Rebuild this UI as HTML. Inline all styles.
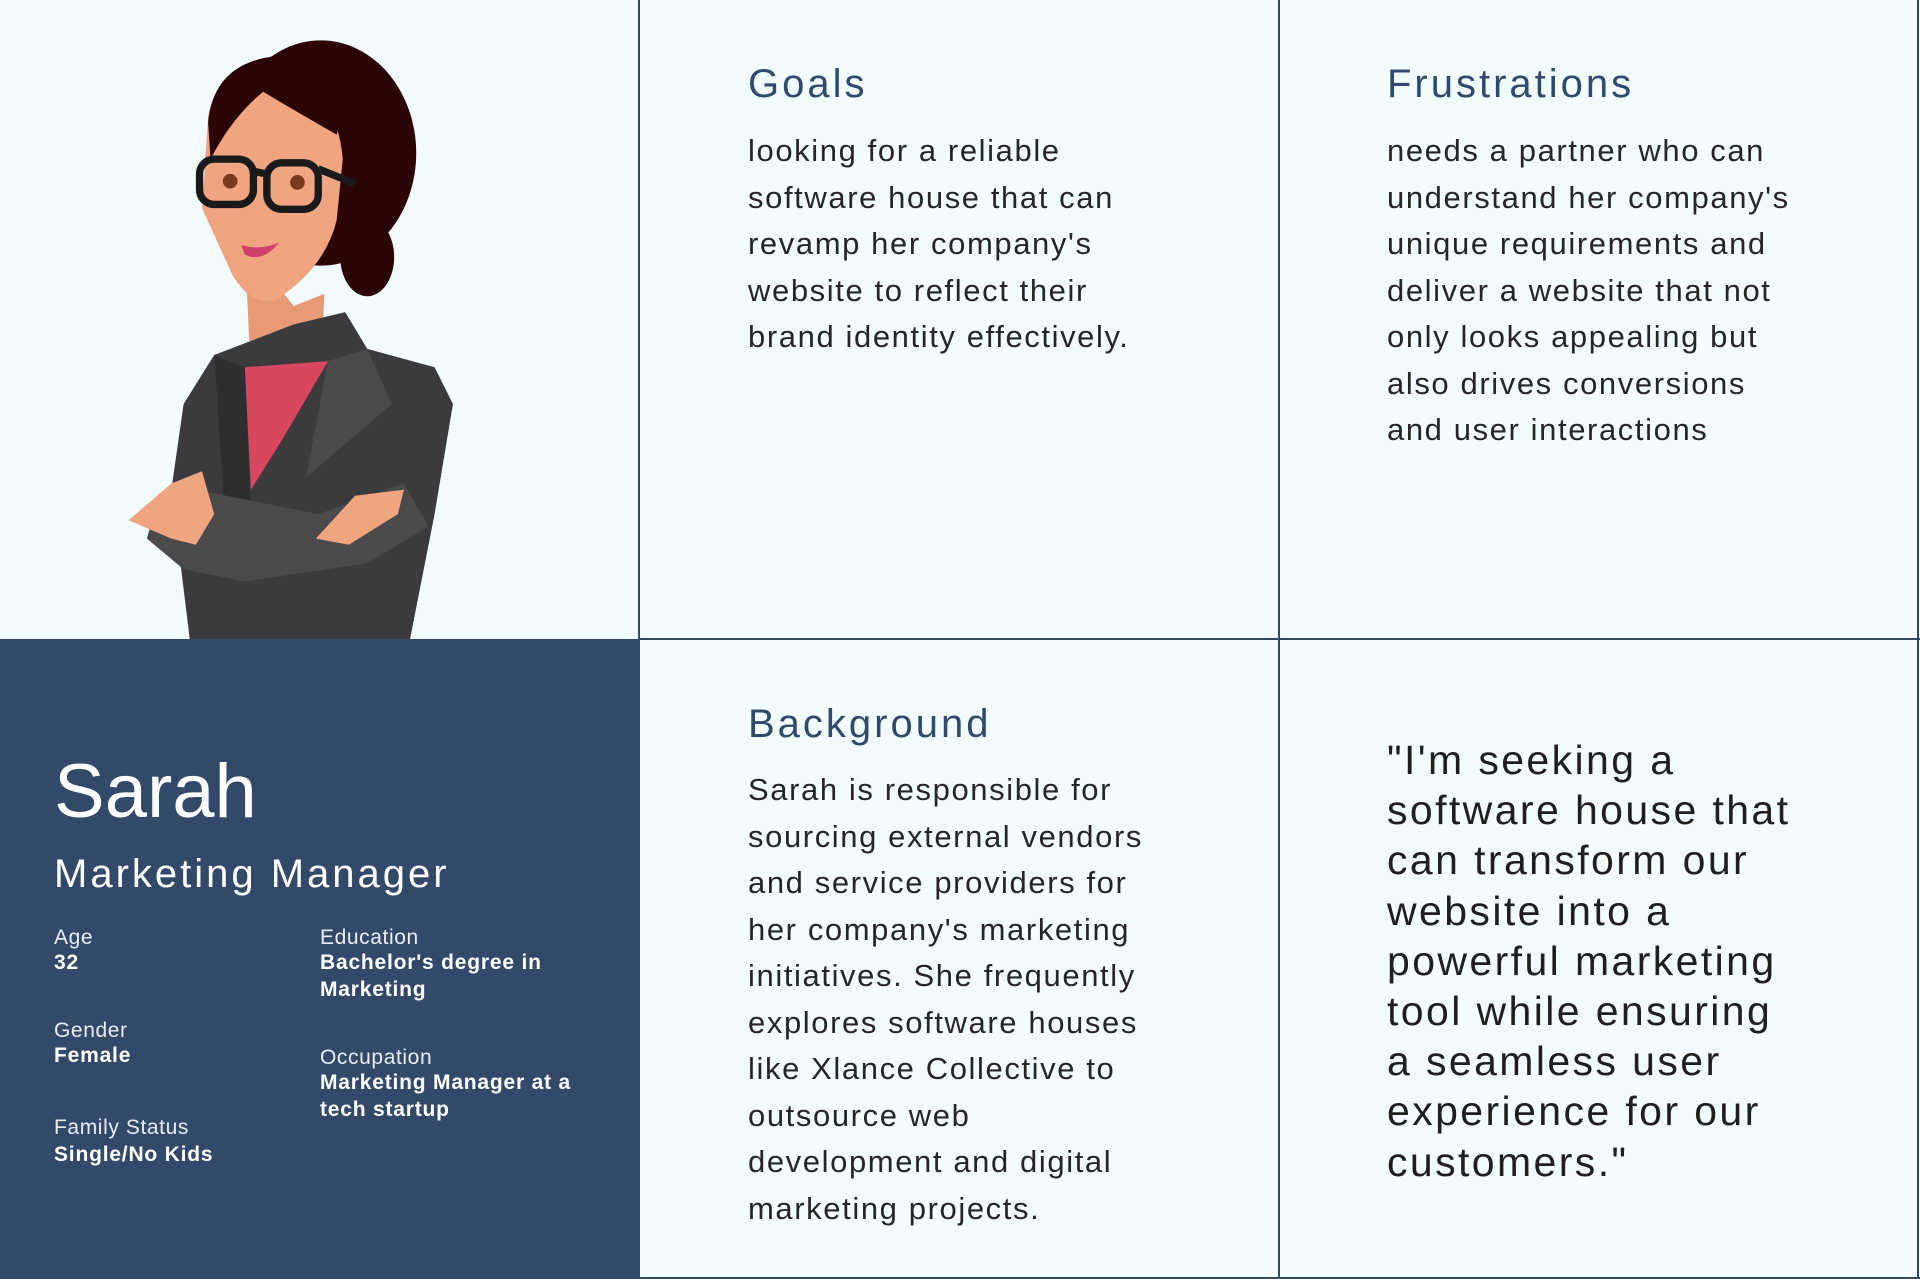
<!DOCTYPE html>
<html><head><meta charset="utf-8"><style>
*{margin:0;padding:0;box-sizing:border-box}
body{width:1920px;height:1279px;background:#f2fbfe;position:relative;overflow:hidden;font-family:"Liberation Sans",sans-serif}
.line{position:absolute;background:#33496a}
.h{position:absolute;color:#2f4a6e;font-size:40px;line-height:48px;letter-spacing:3px}
.b{position:absolute;color:#262626;font-size:31px;line-height:46.5px;letter-spacing:1.6px}
.q{position:absolute;left:1387px;top:735px;color:#1f1f1f;font-size:41px;line-height:50.2px;letter-spacing:2.4px}
.panel{position:absolute;left:0;top:639px;width:639px;height:640px;background:#33496a;color:#fff}
.lab{position:absolute;font-size:21px;line-height:26px;color:#e8eef5;letter-spacing:0.6px}
.val{position:absolute;font-size:21px;line-height:27px;font-weight:bold;letter-spacing:0.8px}
</style></head><body>
<svg style="position:absolute;left:0;top:0" width="639" height="639" viewBox="0 0 522 522">
<ellipse cx="262" cy="125" rx="78" ry="92" fill="#2b0405"/>
<ellipse cx="300" cy="210" rx="22" ry="32" fill="#2b0405"/>
<path d="M200 200 L240 250 L265 240 L262 300 L205 310 Z" fill="#e89a76"/>
<path d="M170 95 Q175 60 225 60 Q275 70 280 130 L275 180 Q265 220 225 245 Q205 250 190 225 L165 170 Z" fill="#f0a47f"/>
<path d="M170 100 Q175 45 240 45 Q290 60 275 110 Q240 90 215 75 Q190 95 172 130 Z" fill="#2b0405"/>
<g fill="none" stroke="#1a1a1a" stroke-width="6">
<rect x="163" y="130" width="44" height="37" rx="12"/><rect x="218" y="133" width="42" height="38" rx="12"/>
<line x1="207" y1="140" x2="218" y2="142"/><line x1="260" y1="138" x2="290" y2="150"/></g>
<circle cx="188" cy="148" r="6" fill="#7a3a1e"/><circle cx="243" cy="149" r="6" fill="#7a3a1e"/>
<path d="M197 200 Q213 205 228 198 Q215 215 200 208 Z" fill="#d0406a"/>
<path d="M155 522 L140 400 L150 330 L175 290 L240 265 L282 255 L300 285 L355 300 L370 330 L355 420 L335 522 Z" fill="#3b3b3d"/>
<path d="M200 300 L268 295 L230 360 L205 400 Z" fill="#d8465f"/>
<path d="M175 290 L200 300 L205 420 L185 440 Z" fill="#2e2e30"/>
<path d="M268 295 L300 285 L320 330 L250 390 Z" fill="#4a4a4c"/>
<path d="M120 440 Q130 400 160 400 L260 420 L330 395 L350 430 L300 460 L200 475 L150 465 Z" fill="#4a4a4c"/>
<path d="M105 425 L140 395 L165 385 L175 420 L160 445 L140 440 Z" fill="#f0a47f"/>
<path d="M258 440 L290 405 L330 400 L325 420 L285 445 Z" fill="#f0a47f"/>
</svg>
<div class="line" style="left:638px;top:0;width:2px;height:1279px"></div>
<div class="line" style="left:1278px;top:0;width:2px;height:1279px"></div>
<div class="line" style="left:1917px;top:0;width:2px;height:1279px"></div>
<div class="line" style="left:638px;top:638px;width:1282px;height:2px"></div>
<div class="line" style="left:638px;top:1277px;width:1282px;height:2px"></div>
<div class="panel">
<div style="position:absolute;left:54px;top:108px;font-size:76px;line-height:90px">Sarah</div>
<div style="position:absolute;left:54px;top:210px;font-size:40px;line-height:50px;letter-spacing:3px">Marketing Manager</div>
<div class="lab" style="left:54px;top:286px">Age</div>
<div class="val" style="left:54px;top:310px">32</div>
<div class="lab" style="left:54px;top:379px">Gender</div>
<div class="val" style="left:54px;top:403px">Female</div>
<div class="lab" style="left:54px;top:476px">Family Status</div>
<div class="val" style="left:54px;top:502px">Single/No Kids</div>
<div class="lab" style="left:320px;top:286px">Education</div>
<div class="val" style="left:320px;top:310px">Bachelor's degree in<br>Marketing</div>
<div class="lab" style="left:320px;top:406px">Occupation</div>
<div class="val" style="left:320px;top:430px">Marketing Manager at a<br>tech startup</div>
</div>
<div class="h" style="left:748px;top:60px">Goals</div>
<div class="b" style="left:748px;top:128px">looking for a reliable<br>software house that can<br>revamp her company's<br>website to reflect their<br>brand identity effectively.</div>
<div class="h" style="left:1387px;top:60px">Frustrations</div>
<div class="b" style="left:1387px;top:128px">needs a partner who can<br>understand her company's<br>unique requirements and<br>deliver a website that not<br>only looks appealing but<br>also drives conversions<br>and user interactions</div>
<div class="h" style="left:748px;top:700px">Background</div>
<div class="b" style="left:748px;top:767px">Sarah is responsible for<br>sourcing external vendors<br>and service providers for<br>her company's marketing<br>initiatives. She frequently<br>explores software houses<br>like Xlance Collective to<br>outsource web<br>development and digital<br>marketing projects.</div>
<div class="q">"I'm seeking a<br>software house that<br>can transform our<br>website into a<br>powerful marketing<br>tool while ensuring<br>a seamless user<br>experience for our<br>customers."</div>
</body></html>
